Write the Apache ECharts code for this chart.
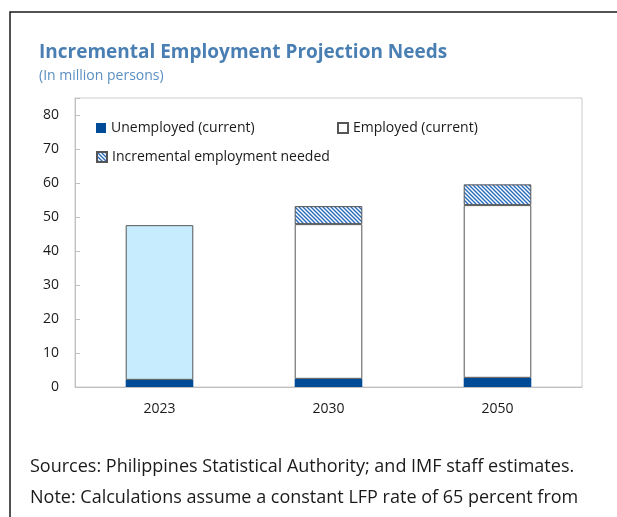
<!DOCTYPE html>
<html>
<head>
<meta charset="utf-8">
<script src="https://cdn.jsdelivr.net/npm/echarts@6/dist/echarts.min.js"></script>
<style>html,body{margin:0;padding:0;background:#fff;}#chart{width:617px;height:517px;}</style>
</head>
<body>
<div id="chart"></div>
<script>
const categories = ['2023', '2030', '2050'];
const unemployed = [2.1, 2.4, 2.7];
const employed = [45.5, 45.5, 50.8];
const incremental = ['-', 5.3, 6.1];
const yTicks = [0, 10, 20, 30, 40, 50, 60, 70, 80];

const FONT = '"Open Sans", "Noto Sans", sans-serif';

function hatch() {
  const c = document.createElement('canvas');
  c.width = 4; c.height = 4;
  const g = c.getContext('2d');
  g.fillStyle = '#ffffff';
  g.fillRect(0, 0, 4, 4);
  g.strokeStyle = '#2a6cbc';
  g.lineWidth = 1.4;
  g.beginPath();
  g.moveTo(-1, -1); g.lineTo(5, 5);
  g.moveTo(-1, 3); g.lineTo(1, 5);
  g.moveTo(3, -1); g.lineTo(5, 1);
  g.stroke();
  return c;
}

const chart = echarts.init(document.getElementById('chart'), null, {renderer: 'canvas'});
const legendText = {fontFamily: FONT, fontSize: 14, color: '#1a1a1a'};
chart.setOption({
  animation: false,
  textStyle: {fontFamily: FONT},
  grid: {left: 75, right: 35, top: 98, bottom: 130, show: true, borderColor: '#cccccc', borderWidth: 1},
  legend: [
    {data: ['Unemployed (current)'], left: 91, top: 116, icon: 'rect', itemWidth: 10, itemHeight: 10, itemGap: 4, textStyle: legendText},
    {data: ['Employed (current)'], left: 332, top: 116, icon: 'rect', itemWidth: 10, itemHeight: 10, itemGap: 4, textStyle: legendText},
    {data: ['Incremental employment needed'], left: 91, top: 145, icon: 'rect', itemWidth: 10, itemHeight: 10, itemGap: 4, textStyle: legendText}
  ],
  xAxis: {
    type: 'category', data: categories,
    axisLine: {lineStyle: {color: '#bfbfbf'}},
    axisTick: {inside: true, length: 5, lineStyle: {color: '#bfbfbf'}},
    axisLabel: {color: '#1a1a1a', fontSize: 14, margin: 15, fontFamily: FONT}
  },
  yAxis: {
    type: 'value', min: 0, max: 85, interval: 10,
    axisLine: {show: true, lineStyle: {color: '#bfbfbf'}},
    axisTick: {show: true, inside: true, length: 5, lineStyle: {color: '#bfbfbf'}},
    splitLine: {show: false},
    axisLabel: {color: '#1a1a1a', fontSize: 14, margin: 16, fontFamily: FONT,
      formatter: v => (yTicks.indexOf(v) >= 0 ? String(v) : '')}
  },
  series: [
    {name: 'Unemployed (current)', type: 'bar', stack: 's', barWidth: '40%', data: unemployed,
      itemStyle: {color: '#004b96'}},
    {name: 'Employed (current)', type: 'bar', stack: 's', data: employed.map((v, i) => i === 0 ? {value: v, itemStyle: {color: '#c6ecfd'}} : v),
      itemStyle: {color: '#ffffff', borderColor: '#555555', borderWidth: 1}},
    {name: 'Incremental employment needed', type: 'bar', stack: 's', data: incremental,
      itemStyle: {color: {image: hatch(), repeat: 'repeat'}, borderColor: '#555555', borderWidth: 1}}
  ],
  graphic: [
    {type: 'polyline', shape: {points: [[10, 520], [10, 12], [620, 12]]}, style: {stroke: '#1a1a1a', lineWidth: 1.5, fill: null}},
    {type: 'text', left: 39, top: 43, style: {text: 'Incremental Employment Projection Needs', font: 'bold 19px ' + FONT, fill: '#4a7fb3'}},
    {type: 'text', left: 39, top: 69, style: {text: '(In million persons)', font: '14px ' + FONT, fill: '#5b8fc2'}},
    {type: 'text', left: 30, top: 458, style: {text: 'Sources: Philippines Statistical Authority; and IMF staff estimates.', font: '18px ' + FONT, fill: '#1a1a1a'}},
    {type: 'text', left: 30, top: 489, style: {text: 'Note: Calculations assume a constant LFP rate of 65 percent from', font: '18px ' + FONT, fill: '#1a1a1a'}}
  ]
});
</script>
</body>
</html>
